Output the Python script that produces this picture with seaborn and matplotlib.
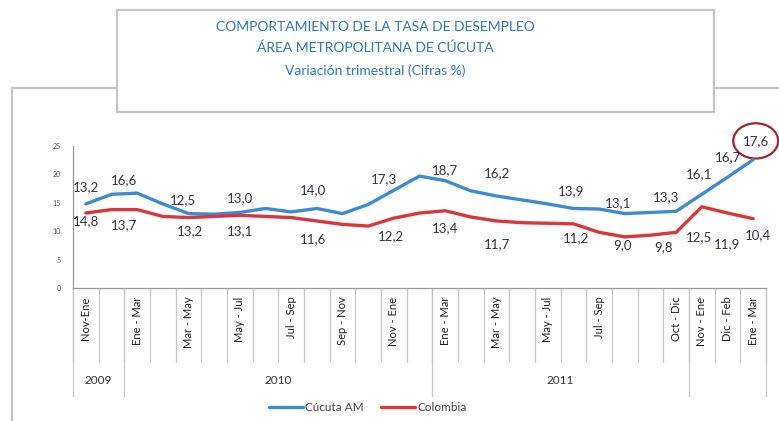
import pandas as pd
import matplotlib.pyplot as plt
import matplotlib.transforms as mtransforms
from matplotlib.lines import Line2D
from matplotlib.patches import Rectangle, Ellipse
import seaborn as sns

# categorias (trimestres moviles) y etiquetas visibles del eje
periodos = ["Nov-Ene", "Dic-Feb", "Ene - Mar", "Feb - Abr", "Mar - May", "Abr - Jun",
            "May - Jul", "Jun - Ago", "Jul - Sep", "Ago - Oct", "Sep - Nov", "Oct - Dic",
            "Nov - Ene", "Dic - Feb", "Ene - Mar", "Feb - Abr", "Mar - May", "Abr - Jun",
            "May - Jul", "Jun - Ago", "Jul - Sep", "Ago - Oct", "Sep - Nov", "Oct - Dic",
            "Nov - Ene", "Dic - Feb", "Ene - Mar"]
etiquetas_x = ["Nov-Ene", "", "Ene - Mar", "", "Mar - May", "", "May - Jul", "",
               "Jul - Sep", "", "Sep - Nov", "", "Nov - Ene", "", "Ene - Mar", "",
               "Mar - May", "", "May - Jul", "", "Jul - Sep", "", "", "Oct - Dic",
               "Nov - Ene", "Dic - Feb", "Ene - Mar"]
anios = ["2009", "2010", "2011", ""]
periodos_por_anio = [2, 12, 10, 3]

cucuta = [14.8, 16.5, 16.7, 14.8, 13.1, 13.0, 13.3, 14.0, 13.4, 14.0, 13.1, 14.7, 17.2, 19.7,
          18.9, 17.1, 16.2, 15.5, 14.8, 14.0, 13.9, 13.1, 13.3, 13.5, 16.5, 19.5, 22.6]
colombia = [13.2, 13.8, 13.8, 12.6, 12.4, 12.6, 12.8, 12.6, 12.4, 11.8, 11.2, 10.9, 12.3, 13.2,
            13.6, 12.5, 11.8, 11.5, 11.4, 11.3, 9.8, 9.0, 9.3, 9.8, 14.3, 13.2, 12.2]

# etiquetas de datos tal como aparecen en el grafico
etq_cucuta = ["13,2", "16,6", "12,5", "13,0", "14,0", "17,3", "18,7", "16,2", "13,9",
              "13,1", "13,3", "16,1", "16,7", "17,6"]
etq_cucuta_x = [0.0, 1.5, 3.8, 6.0, 8.85, 11.6, 14.0, 16.0, 18.9, 20.75, 22.6, 23.9, 25.0, 26.1]
etq_cucuta_y = [17.8, 19.0, 15.5, 15.8, 17.2, 19.1, 20.8, 20.2, 17.1, 14.9, 16.0, 20.0, 23.0, 25.9]

etq_colombia = ["14,8", "13,7", "13,2", "13,1", "11,6", "12,2", "13,4", "11,7", "11,2",
                "9,0", "9,8", "12,5", "11,9", "10,4"]
etq_colombia_x = [0.0, 1.5, 4.05, 6.0, 8.85, 11.9, 14.0, 16.0, 19.1, 20.9, 22.5, 23.9, 25.0, 26.2]
etq_colombia_y = [11.8, 11.1, 10.0, 10.0, 8.6, 9.2, 10.5, 7.8, 8.7, 7.5, 7.2, 9.0, 7.8, 9.3]

AZUL = "#3f8bd2"
ROJO = "#d9363d"
GRIS = "#c6c6c6"
TEXTO = "#333344"

sns.set_style("white")
plt.rcParams["font.family"] = ["Lato", "DejaVu Sans"]

W, H = 779, 421
fig = plt.figure(figsize=(W / 100, H / 100), dpi=100)
ax = fig.add_axes([73 / W, 1 - 288 / H, 693 / W, 142 / H])

df = pd.DataFrame({
    "idx": list(range(len(periodos))) * 2,
    "valor": cucuta + colombia,
    "serie": ["Cúcuta AM"] * len(periodos) + ["Colombia"] * len(periodos),
})
sns.lineplot(data=df, x="idx", y="valor", hue="serie", palette=[AZUL, ROJO],
             linewidth=2.4, ax=ax, sort=False)

ax.set_xlim(-0.5, len(periodos) - 0.5)
ax.set_ylim(0, 25)
ax.set_yticks(range(0, 26, 5))
ax.set_yticklabels([str(v) for v in range(0, 26, 5)], fontsize=5, color="#555555")
ax.tick_params(axis="y", length=3, width=0.8, color="#999999", pad=6)
ax.set_xticks([])
ax.set_xlabel("")
ax.set_ylabel("")
for s in ["top", "right"]:
    ax.spines[s].set_visible(False)
for s in ["left", "bottom"]:
    ax.spines[s].set_color("#9a9a9a")
    ax.spines[s].set_linewidth(0.9)

# etiquetas de datos
for t, x, y in zip(etq_cucuta, etq_cucuta_x, etq_cucuta_y):
    ax.text(x, y, t, ha="center", va="center", fontsize=9.5, color=TEXTO)
for t, x, y in zip(etq_colombia, etq_colombia_x, etq_colombia_y):
    ax.text(x, y, t, ha="center", va="center", fontsize=9.5, color=TEXTO)

# circulo resaltando el ultimo dato
ax.add_patch(Ellipse((etq_cucuta_x[-1], etq_cucuta_y[-1]), width=1.75, height=6.2,
                     fill=False, edgecolor="#a3262a", linewidth=1.6, clip_on=False))

# eje de categorias con dos niveles
trans = mtransforms.blended_transform_factory(ax.transData, ax.transAxes)
for i in range(len(periodos) + 1):
    ax.add_line(Line2D([i - 0.5, i - 0.5], [0, -0.52], transform=trans,
                       color=GRIS, linewidth=0.9, clip_on=False))
for i, t in enumerate(etiquetas_x):
    if t:
        ax.text(i, -0.06, t, rotation=90, ha="center", va="top", fontsize=8,
                color="#1e1e1e", transform=trans)

inicio = 0
limites = [0]
for anio, n in zip(anios, periodos_por_anio):
    ax.text(inicio + n / 2 - 0.5, -0.65, anio, ha="center", va="center", fontsize=8.5,
            color="#333333", transform=trans)
    inicio += n
    limites.append(inicio)
for b in limites:
    ax.add_line(Line2D([b - 0.5, b - 0.5], [0, -0.76], transform=trans,
                       color=GRIS, linewidth=0.9, clip_on=False))

# leyenda
sns.move_legend(ax, "center", bbox_to_anchor=(0.425, -0.845), ncol=2, frameon=False,
                title=None, fontsize=8.5, handlelength=2.9, handletextpad=0.15,
                columnspacing=1.5)
for txt in ax.get_legend().get_texts():
    txt.set_color("#444444")

# marco exterior y caja del titulo
def fx(px):
    return px / W


def fy(py):
    return 1 - py / H


fig.add_artist(Line2D([fx(12), fx(12)], [fy(88), fy(421)], color=GRIS, linewidth=1.6))
fig.add_artist(Line2D([fx(12), fx(117)], [fy(88), fy(88)], color=GRIS, linewidth=1.6))
fig.add_artist(Line2D([fx(714), fx(779)], [fy(88), fy(88)], color=GRIS, linewidth=1.6))
fig.add_artist(Rectangle((fx(117), fy(112)), fx(714) - fx(117), fy(10) - fy(112),
                         transform=fig.transFigure, facecolor="white",
                         edgecolor=GRIS, linewidth=1.6))

titulo = ["COMPORTAMIENTO DE LA TASA DE DESEMPLEO",
          "ÁREA METROPOLITANA DE CÚCUTA",
          "Variación trimestral (Cifras %)"]
for t, py in zip(titulo, [27, 48, 71]):
    fig.text(fx(375), fy(py), t, ha="center", va="center", fontsize=10, color="#2f76b7")

fig.savefig("out.png", dpi=100, facecolor="white")
